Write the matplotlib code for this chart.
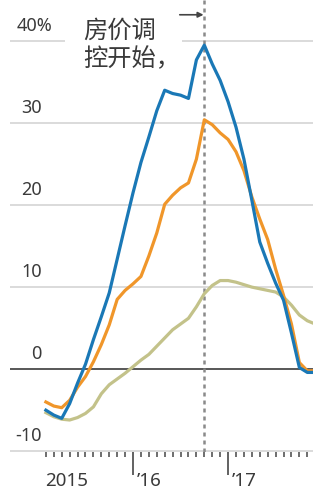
import numpy as np
import matplotlib
matplotlib.use("Agg")
import matplotlib.pyplot as plt

# months counted from Jan 2015 (0 = Jan 2015)
months = list(range(1, 36))

blue = [-5.0, -5.6, -6.0, -4.2, -1.7, 0.6, 3.6, 6.4, 9.3, 13.4,
        17.5, 21.5, 25.2, 28.3, 31.5, 34.0, 33.6, 33.4, 33.0, 37.7,
        39.5, 37.2, 35.2, 32.6, 29.5, 25.6, 20.6, 15.5, 12.9, 10.5,
        8.4, 4.4, 0.2, -0.4, -0.4]
orange = [-4.0, -4.5, -4.7, -3.8, -2.2, -0.9, 0.9, 3.0, 5.4, 8.5,
          9.6, 10.4, 11.3, 13.8, 16.6, 20.1, 21.2, 22.1, 22.7, 25.6,
          30.4, 29.8, 28.8, 28.0, 26.5, 24.2, 21.0, 18.3, 15.8, 12.2,
          9.0, 5.5, 0.8, -0.2, -0.2]
green = [-5.3, -5.8, -6.1, -6.2, -5.9, -5.4, -4.6, -3.0, -1.9, -1.2,
         -0.5, 0.3, 1.1, 1.8, 2.8, 3.8, 4.8, 5.5, 6.2, 7.6,
         9.2, 10.2, 10.8, 10.8, 10.6, 10.3, 10.0, 9.8, 9.6, 9.4,
         8.8, 7.8, 6.6, 5.9, 5.5]

y_ticks = [-10, 0, 10, 20, 30, 40]
year_ticks = [12, 24]
year_labels = ["2015", "\u201916", "\u201917"]
year_label_pos = [0.9, 12.5, 24.5]
policy_month = 21  # Oct 2016

grey_txt = "#3a3a3a"
plt.rcParams['font.family'] = ['Noto Sans', 'DejaVu Sans']

fig = plt.figure(figsize=(3.13, 4.93), dpi=100)
ax = fig.add_axes([10 / 313, 41 / 493, 303 / 313, 452 / 493])
ax.set_xlim(-3.53, 34.72)
ax.set_ylim(-10.1, 45)

# gridlines
for v in y_ticks:
    if v == 0:
        ax.axhline(v, color="#4a4a4a", lw=1.3, zorder=2)
    elif v == 40:
        # broken where the annotation sits
        ax.hlines(v, -3.53, 3.4, color="#d4d4d4", lw=1.2, zorder=1)
        ax.hlines(v, 18.2, 34.72, color="#d4d4d4", lw=1.2, zorder=1)
    else:
        ax.axhline(v, color="#d4d4d4", lw=1.2, zorder=1)

# y labels sitting on the gridlines
for v in y_ticks:
    if v == 40:
        ax.annotate("40%", (-2.65, v), xytext=(0, 7.5),
                    textcoords="offset points", ha="left", va="baseline",
                    fontsize=13, color=grey_txt)
    else:
        ax.annotate(str(v), (0.5, v), xytext=(0, 7.5),
                    textcoords="offset points", ha="right", va="baseline",
                    fontsize=13, color=grey_txt)

# policy start line
ax.axvline(policy_month, color="#8a8a8a", lw=1.8, ls=(0, (1.6, 1.6)), zorder=2)

ax.plot(months, green, color="#c3c28a", lw=2.3, zorder=3)
ax.plot(months, orange, color="#f0962a", lw=2.3, zorder=4)
ax.plot(months, blue, color="#1a78b6", lw=2.3, zorder=5)

# annotation
cjk = ['Noto Sans CJK SC', 'DejaVu Sans']
ax.text(5.7, 41.2, "房价调", family=cjk, fontsize=17.5, color=grey_txt,
        ha="left", va="center")
ax.text(5.7, 37.8, "控开始，", family=cjk, fontsize=17.5, color=grey_txt,
        ha="left", va="center")
ax.annotate("", xy=(policy_month - 0.1, 43.2), xytext=(17.9, 43.2),
            arrowprops=dict(arrowstyle="-|>", color="#444444", lw=1.2,
                            mutation_scale=8, shrinkA=0, shrinkB=0))

# x axis ticks
for s in ax.spines.values():
    s.set_visible(False)
ax.set_yticks([])
ax.set_xticks(year_ticks)
ax.set_xticklabels([])
ax.set_xticks([m for m in range(1, 35) if m not in year_ticks], minor=True)
ax.tick_params(axis="x", which="major", length=16.5, width=1.3,
               color="#555555", direction="out")
ax.tick_params(axis="x", which="minor", length=3.8, width=1.2,
               color="#555555", direction="out")

tr = ax.get_xaxis_transform()
for pos, lab in zip(year_label_pos, year_labels):
    ax.text(pos, -0.064, lab, transform=tr, ha="left", va="center",
            fontsize=13.5, color=grey_txt)

fig.savefig("out.png", dpi=100)
